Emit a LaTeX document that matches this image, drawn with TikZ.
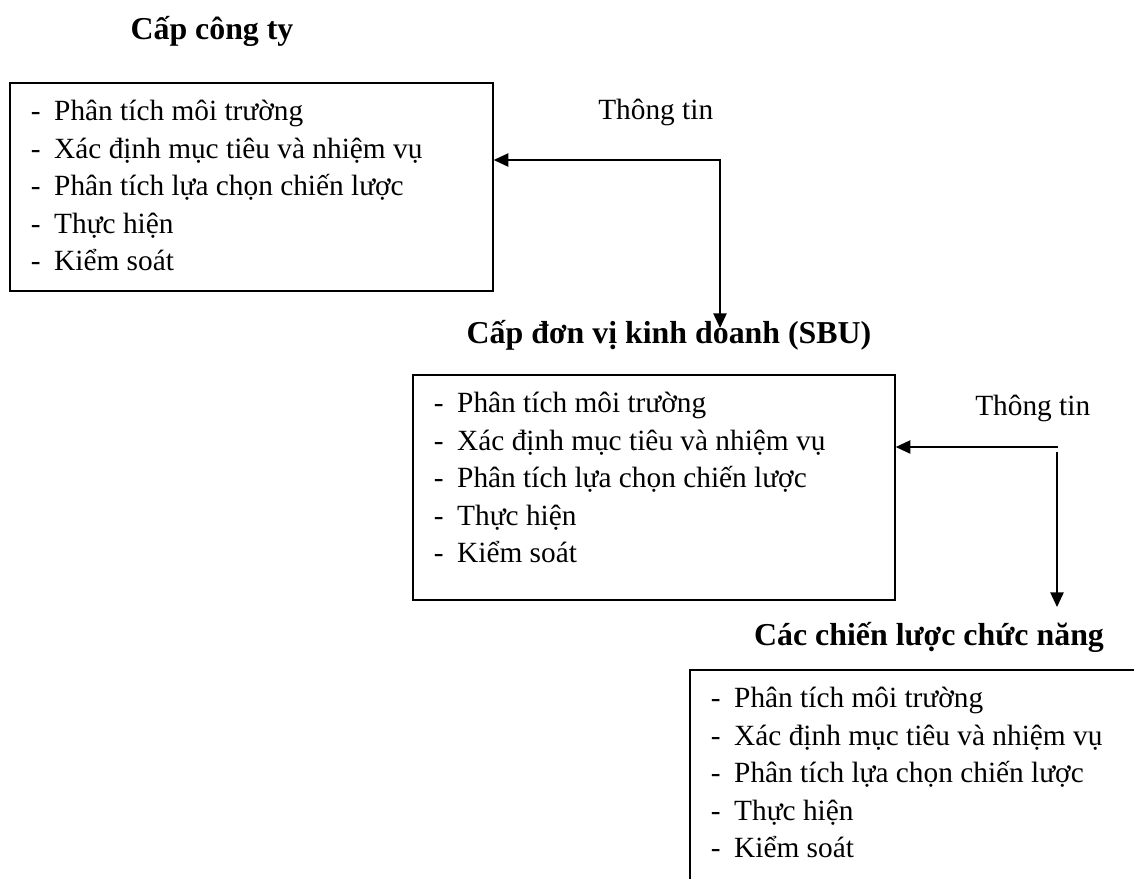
\documentclass[tikz,border=0pt]{standalone}
\usepackage{fontspec}
\setmainfont{Liberation Serif}
\usetikzlibrary{arrows.meta,calc}

% the five planning steps repeated in every level
\newcommand\tasklist{Phân tích môi trường,Xác định mục tiêu và nhiệm vụ,Phân tích lựa chọn chiến lược,Thực hiện,Kiểm soát}

\tikzset{
  levelbox/.style={draw, line width=1.3pt, rectangle, anchor=north west, inner sep=0pt},
  item/.style={anchor=base west, inner sep=0pt, font=\fontsize{22}{28}\selectfont},
  leveltitle/.style={anchor=base, inner sep=0pt, font=\fontsize{23.9}{28}\selectfont\bfseries},
  infolabel/.style={anchor=base west, inner sep=0pt, font=\fontsize{22}{28}\selectfont},
  flow/.style={line width=1.1pt, -{Triangle[length=11pt,width=10pt]}},
  flowboth/.style={line width=1.1pt, {Triangle[length=11pt,width=10pt]}-{Triangle[length=11pt,width=10pt]}},
}

\begin{document}
\begin{tikzpicture}[x=0.75pt, y=-0.75pt]
\useasboundingbox (0,0) rectangle (1134,878);

% level titles
\node[leveltitle] (t1) at (212,39) {Cấp công ty};
\node[leveltitle] (t2) at (669,343) {Cấp đơn vị kinh doanh (SBU)};
\node[leveltitle] (t3) at (929,645) {Các chiến lược chức năng};

% boxes
\node[levelbox, minimum width=362.25pt, minimum height=156pt] (b1) at (9,82) {};
\node[levelbox, minimum width=361.5pt, minimum height=168.75pt] (b2) at (412,374) {};
\node[levelbox, minimum width=375pt, minimum height=225pt] (b3) at (689,669) {};

% step lists inside the boxes
\foreach \b in {b1,b2,b3}{
  \foreach \t [count=\i] in \tasklist {
    \node[item] (\b-\i) at ($(\b.north west)+(21.5,{38.5+37.5*(\i-1)})$)
      {\makebox[17.6pt][l]{-}\t};
  }
}

% information labels
\node[infolabel] (i1) at (598,119) {Thông tin};
\node[infolabel] (i2) at (975,415) {Thông tin};

% information flow: company -> SBU
\coordinate (j1) at (720,160);
\coordinate (e1) at (720,328);
\draw[flowboth] (j1 -| b1.east) -- (j1) -- (e1);

% information flow: SBU -> functional strategies
\coordinate (j2) at (1058,447);
\coordinate (s2) at (1057,452);
\coordinate (e2) at (1057,607);
\draw[flow] (j2) -- (j2 -| b2.east);
\draw[flow] (s2) -- (e2);
\end{tikzpicture}
\end{document}
